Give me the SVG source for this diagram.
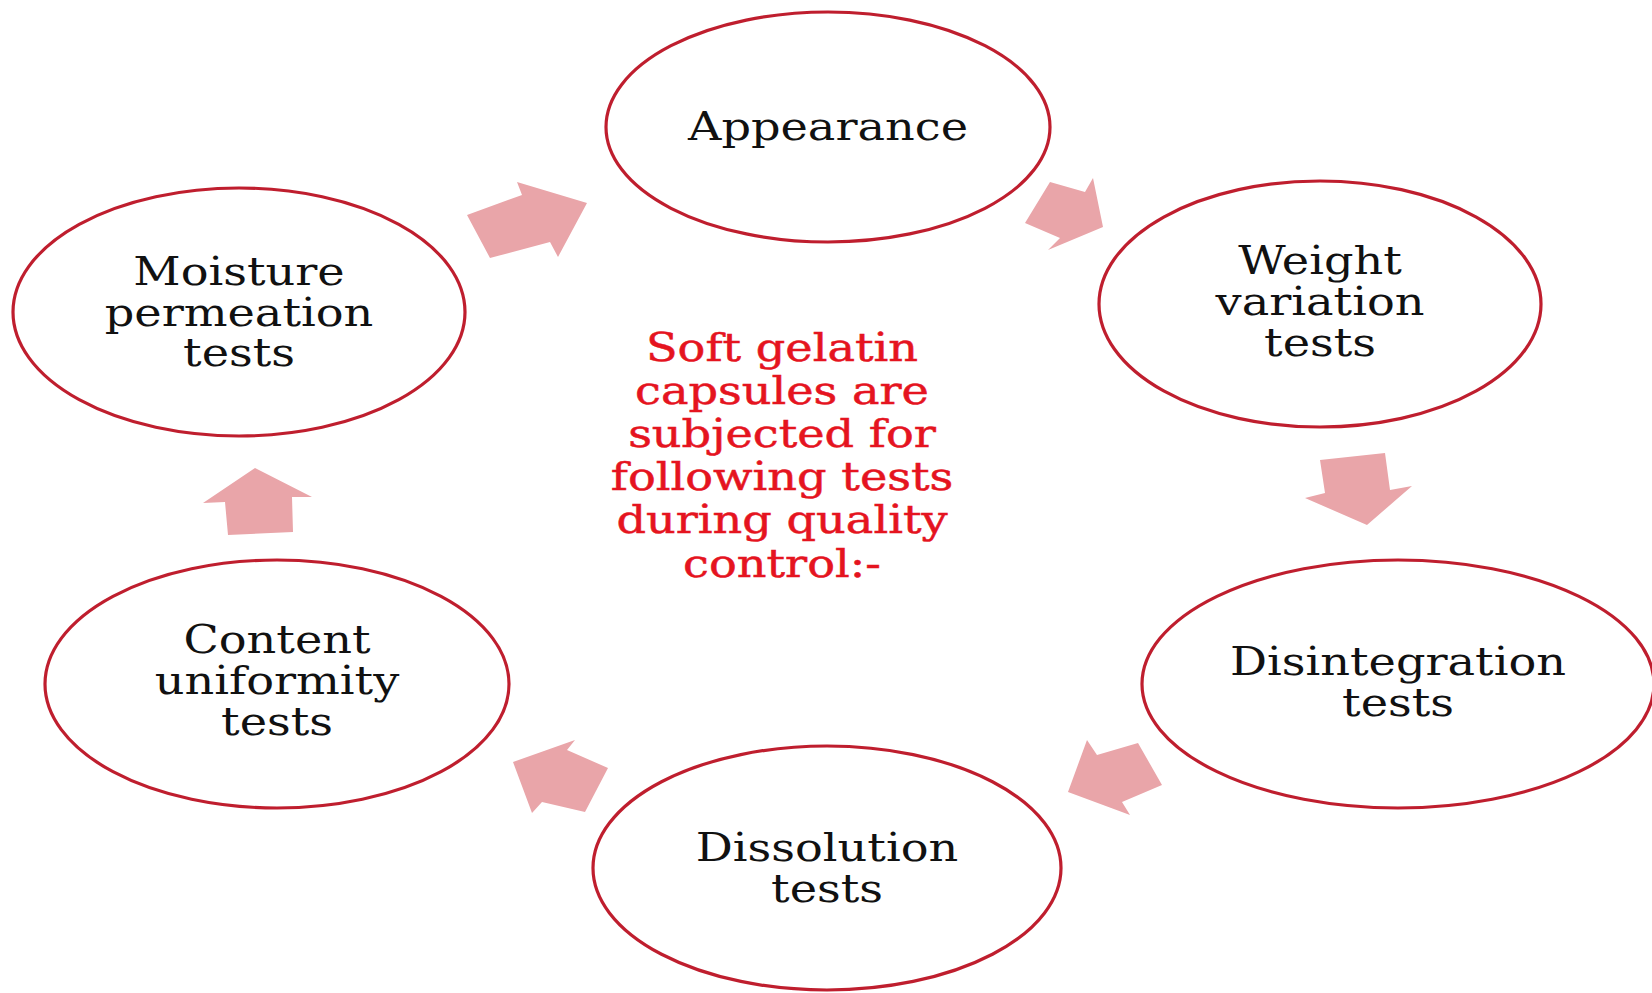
<svg xmlns="http://www.w3.org/2000/svg" width="1652" height="993" viewBox="0 0 1652 993">
<style>
.node{fill:#fff;stroke:#bf1e2e;stroke-width:3.2}
.lbl{font-family:"DejaVu Serif","Liberation Serif",serif;font-size:38.5px;fill:#111;text-anchor:middle}
.ctr{font-family:"DejaVu Serif","Liberation Serif",serif;font-size:38.5px;fill:#e5141f;text-anchor:middle;stroke:#e5141f;stroke-width:0.5}
.arr{fill:#e9a5a9}
</style>
<rect width="1652" height="993" fill="#fff"/>
<g id="connectors">
<polygon class="arr" points="467,215 522,195 517,182 587,203 558,257 550,242 490,258"/>
<polygon class="arr" points="1050,182 1085,192 1093,178 1103,227 1048,250 1060,238 1025,223"/>
<polygon class="arr" points="1320,460 1385,453 1390,490 1412,486 1367,525 1305,498 1325,493"/>
<polygon class="arr" points="1138,743 1162,785 1122,802 1130,815 1068,792 1087,740 1097,755"/>
<polygon class="arr" points="608,768 585,812 542,802 532,813 513,762 575,740 567,750"/>
<polygon class="arr" points="228,535 293,532 292,497 312,497 255,468 203,503 225,502"/>
</g>
<g id="center" transform="translate(782 0) scale(1.2 1)">
<text class="ctr" x="0" y="361">Soft gelatin</text>
<text class="ctr" x="0" y="404">capsules are</text>
<text class="ctr" x="0" y="447">subjected for</text>
<text class="ctr" x="0" y="490">following tests</text>
<text class="ctr" x="0" y="533">during quality</text>
<text class="ctr" x="0" y="577">control:-</text>
</g>
<g id="appearance">
<ellipse class="node" cx="828" cy="127" rx="222" ry="115"/>
<text class="lbl" transform="translate(828 0) scale(1.2 1)" x="0" y="140">Appearance</text>
</g>
<g id="weight">
<ellipse class="node" cx="1320" cy="304" rx="221" ry="123"/>
<g transform="translate(1320 0) scale(1.2 1)">
<text class="lbl" x="0" y="274">Weight</text>
<text class="lbl" x="0" y="315">variation</text>
<text class="lbl" x="0" y="356">tests</text>
</g>
</g>
<g id="disintegration">
<ellipse class="node" cx="1398" cy="684" rx="256" ry="124"/>
<g transform="translate(1398 0) scale(1.2 1)">
<text class="lbl" x="0" y="675">Disintegration</text>
<text class="lbl" x="0" y="716">tests</text>
</g>
</g>
<g id="dissolution">
<ellipse class="node" cx="827" cy="868" rx="234" ry="122"/>
<g transform="translate(827 0) scale(1.2 1)">
<text class="lbl" x="0" y="861">Dissolution</text>
<text class="lbl" x="0" y="902">tests</text>
</g>
</g>
<g id="content">
<ellipse class="node" cx="277" cy="684" rx="232" ry="124"/>
<g transform="translate(277 0) scale(1.2 1)">
<text class="lbl" x="0" y="653">Content</text>
<text class="lbl" x="0" y="694">uniformity</text>
<text class="lbl" x="0" y="735">tests</text>
</g>
</g>
<g id="moisture">
<ellipse class="node" cx="239" cy="312" rx="226" ry="124"/>
<g transform="translate(239 0) scale(1.2 1)">
<text class="lbl" x="0" y="285">Moisture</text>
<text class="lbl" x="0" y="326">permeation</text>
<text class="lbl" x="0" y="366">tests</text>
</g>
</g>
</svg>
